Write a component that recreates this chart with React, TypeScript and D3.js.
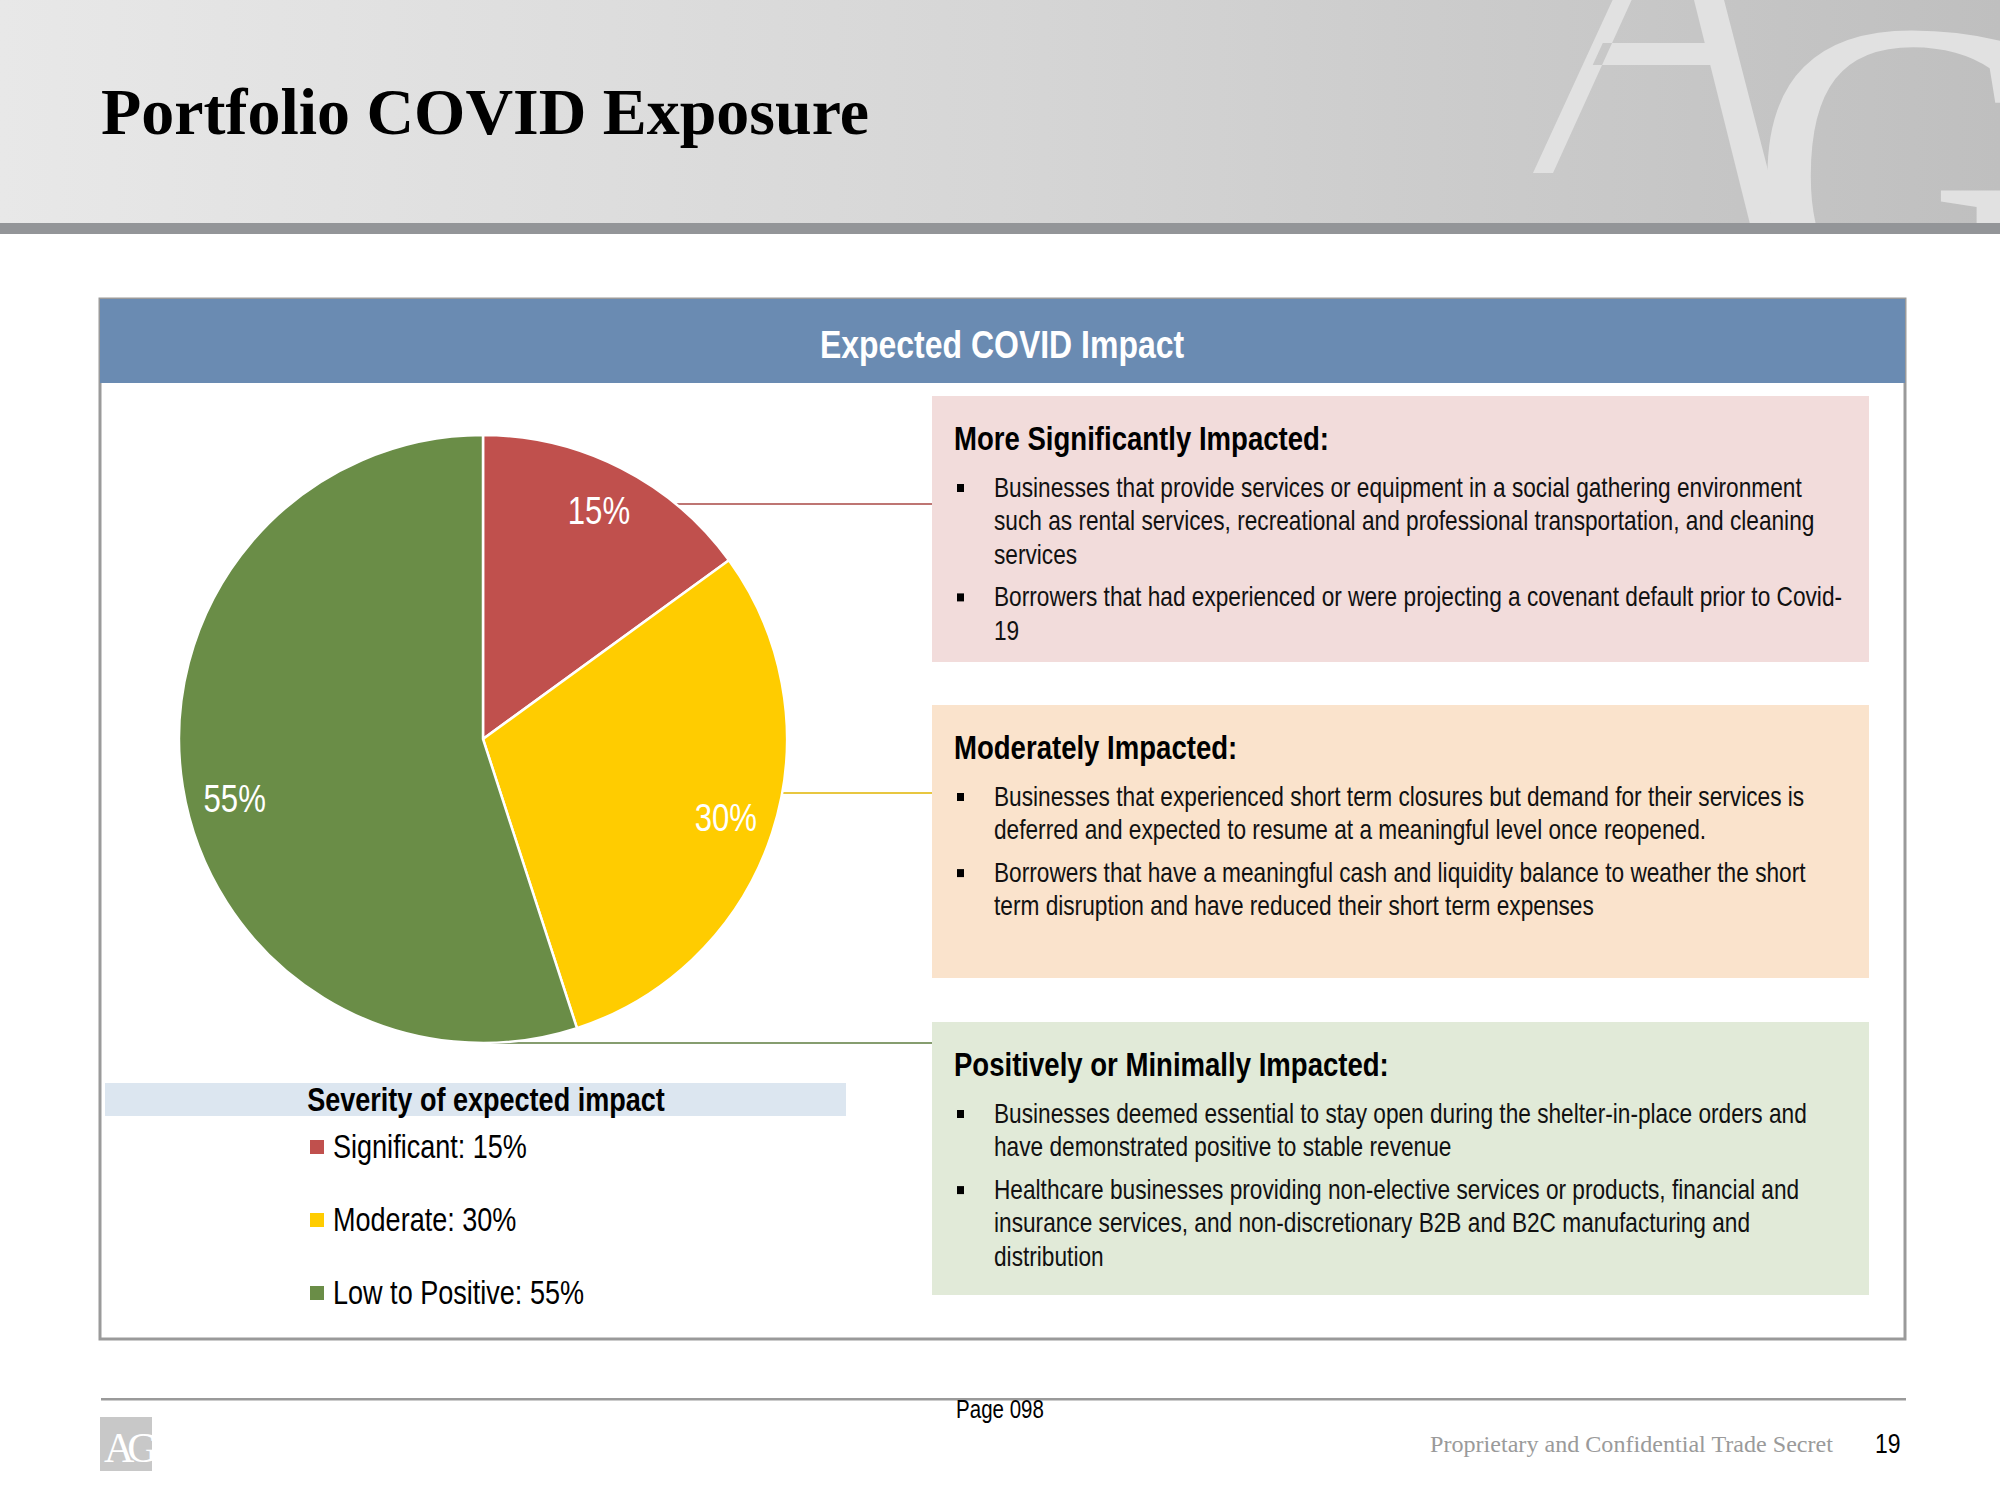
import React from "react";
import * as d3 from "d3";

// ---- data ----
const categories = ["Significant", "Moderate", "Low to Positive"];
const values = [15, 30, 55];
const sliceColors = ["#c0504d", "#ffcc00", "#6a8d47"];
const legendTitle = "Severity of expected impact";

const boxHeadings = [
  "More Significantly Impacted:",
  "Moderately Impacted:",
  "Positively or Minimally Impacted:",
];
const boxFills = ["#f2dcdb", "#fae3cc", "#e1ead8"];
const boxBullets: string[][][] = [
  [
    [
      "Businesses that provide services or equipment in a social gathering environment",
      "such as rental services, recreational and professional transportation, and cleaning",
      "services",
    ],
    ["Borrowers that had experienced or were projecting a covenant default prior to Covid-", "19"],
  ],
  [
    [
      "Businesses that experienced short term closures but demand for their services is",
      "deferred and expected to resume at a meaningful level once reopened.",
    ],
    [
      "Borrowers that have a meaningful cash and liquidity balance to weather the short",
      "term disruption and have reduced their short term expenses",
    ],
  ],
  [
    [
      "Businesses deemed essential to stay open during the shelter-in-place orders and",
      "have demonstrated positive to stable revenue",
    ],
    [
      "Healthcare businesses providing non-elective services or products, financial and",
      "insurance services, and non-discretionary B2B and B2C manufacturing and",
      "distribution",
    ],
  ],
];

// ---- layout ----
const W = 2000;
const H = 1500;
const SX = 0.82; // narrow sans
const SANS = "'Liberation Sans', Arial, sans-serif";
const SERIF = "'Liberation Serif', 'Times New Roman', serif";

const pieCx = 483;
const pieCy = 739;
const pieR = 304;
const labelAngleShiftDeg = [0, 0, -4.5];

const boxX = 932;
const boxW = 937;
const boxTops = [396, 705, 1022];
const boxHeights = [266, 273, 273];
const connectorYs = [504, 793, 1043];

function NText(props: {
  x: number;
  y: number;
  size: number;
  bold?: boolean;
  fill?: string;
  anchor?: string;
  sx?: number;
  children: React.ReactNode;
}) {
  const { x, y, size, bold, fill, anchor, children, sx } = props;
  return (
    <text
      transform={`translate(${x},${y}) scale(${sx ?? SX},1)`}
      fontFamily={SANS}
      fontSize={size}
      fontWeight={bold ? "bold" : "normal"}
      fill={fill || "#000"}
      textAnchor={anchor || "start"}
    >
      {children}
    </text>
  );
}

export default function App() {
  const pie = d3
    .pie<number>()
    .sort(null)
    .value((d) => d);
  const arcs = pie(values);
  const arc = d3.arc<d3.PieArcDatum<number>>().innerRadius(0).outerRadius(pieR);
  const labelArc = d3
    .arc<d3.PieArcDatum<number>>()
    .innerRadius(pieR * 0.84)
    .outerRadius(pieR * 0.84);

  const connStart = (y: number) => {
    const dy = y - pieCy;
    const dx = Math.sqrt(Math.max(0, pieR * pieR - dy * dy));
    return pieCx + dx;
  };

  const headingOffset = 54;
  const firstLineOffset = 47;
  const lineH = 33.3;
  const paraGap = 9.5;

  // watermark "A" geometry (decorative logo)
  const lOut = (y: number) => 1533 + (173 - y) * 0.46;
  const rIn = (y: number) => 1694 + y * 0.25;
  const wmA =
    `M${lOut(173)},173 L${lOut(173) + 20},173 L${lOut(-5) + 19},-5 L${lOut(-5)},-5 Z ` +
    `M${rIn(-5)},-5 L${rIn(-5) + 30},-5 L${rIn(240) + 32},240 L${rIn(240)},240 Z ` +
    `M${lOut(43) + 10},43 L${rIn(43) + 5},43 L${rIn(65) + 5},65 L${lOut(65) + 10},65 Z`;

  return (
    <svg
      width={W}
      height={H}
      viewBox={`0 0 ${W} ${H}`}
      style={{ position: "absolute", left: 0, top: 0, background: "#fff" }}
    >
      <defs>
        <linearGradient id="hdr" x1="0" y1="0" x2="1" y2="0">
          <stop offset="0" stopColor="#e8e8e8" />
          <stop offset="0.5" stopColor="#d6d6d6" />
          <stop offset="1" stopColor="#bfbfbf" />
        </linearGradient>
        <clipPath id="hdrClip">
          <rect x={0} y={0} width={W} height={223} />
        </clipPath>
      </defs>

      {/* header */}
      <rect x={0} y={0} width={W} height={223} fill="url(#hdr)" />
      <g clipPath="url(#hdrClip)" fill="#e1e1e1">
        <path d={wmA} />
        <text x={1750} y={312} fontFamily={SERIF} fontSize={425}>
          G
        </text>
      </g>
      <rect x={0} y={223} width={W} height={11} fill="#939598" />
      <text
        x={101}
        y={134}
        fontFamily={SERIF}
        fontWeight="bold"
        fontSize={66}
        textLength={768}
        lengthAdjust="spacingAndGlyphs"
        fill="#000"
      >
        Portfolio COVID Exposure
      </text>

      {/* panel */}
      <rect x={100} y={299} width={1805} height={1040} fill="#fff" stroke="#9a9a9a" strokeWidth={3} />
      <rect x={100} y={299} width={1805} height={84} fill="#6a8bb2" />
      <NText x={1002} y={358} size={39} bold fill="#fff" anchor="middle">
        Expected COVID Impact
      </NText>

      {/* boxes */}
      {boxHeadings.map((h, i) => {
        const top = boxTops[i];
        let y = top + headingOffset + firstLineOffset;
        const lines: React.ReactNode[] = [];
        boxBullets[i].forEach((para, pi) => {
          if (pi > 0) y += paraGap;
          para.forEach((ln, li) => {
            if (li === 0) {
              lines.push(
                <rect key={`b${pi}`} x={957} y={y - 13} width={7} height={8} fill="#000" />
              );
            }
            lines.push(
              <NText key={`l${pi}-${li}`} x={994} y={y} size={27} sx={0.84} fill="#111">
                {ln}
              </NText>
            );
            y += lineH;
          });
        });
        return (
          <g key={h}>
            <rect x={boxX} y={top} width={boxW} height={boxHeights[i]} fill={boxFills[i]} />
            <NText x={954} y={top + headingOffset} size={33.2} sx={0.83} bold>
              {h}
            </NText>
            {lines}
          </g>
        );
      })}

      {/* connectors */}
      {connectorYs.map((y, i) => (
        <line
          key={`c${i}`}
          x1={i === 2 ? pieCx : connStart(y)}
          x2={boxX}
          y1={y}
          y2={y}
          stroke={d3.color(sliceColors[i])!.darker(0.35).formatHex()}
          strokeWidth={1.6}
        />
      ))}

      {/* pie */}
      <g transform={`translate(${pieCx},${pieCy})`}>
        {arcs.map((a, i) => (
          <path key={categories[i]} d={arc(a) || ""} fill={sliceColors[i]} stroke="#fff" strokeWidth={2.5} />
        ))}
        {arcs.map((a, i) => {
          const s = (labelAngleShiftDeg[i] * Math.PI) / 180;
          const [lx, ly] = labelArc.centroid({ ...a, startAngle: a.startAngle + s, endAngle: a.endAngle + s });
          return (
            <NText key={`t${i}`} x={lx} y={ly + 13} size={38} fill="#fff" anchor="middle">
              {`${values[i]}%`}
            </NText>
          );
        })}
      </g>

      {/* legend */}
      <rect x={105} y={1083} width={741} height={33} fill="#dce6f0" />
      <NText x={486} y={1111} size={33} bold anchor="middle">
        {legendTitle}
      </NText>
      {categories.map((c, i) => {
        const y = 1158 + i * 73;
        return (
          <g key={`lg${i}`}>
            <rect x={310} y={y - 18} width={14} height={14} fill={sliceColors[i]} />
            <NText x={333} y={y} size={33}>
              {`${c}: ${values[i]}%`}
            </NText>
          </g>
        );
      })}

      {/* footer */}
      <rect x={101} y={1398} width={1805} height={2.5} fill="#9a9a9a" />
      <NText x={1000} y={1418} size={25} anchor="middle">
        Page 098
      </NText>
      <rect x={100} y={1417} width={52} height={54} fill="#c8c8c8" />
      <text x={104} y={1462} fontFamily={SERIF} fontSize={42} fill="#fff" letterSpacing={-7}>
        AG
      </text>
      <text
        x={1430}
        y={1452}
        fontFamily={SERIF}
        fontSize={23}
        fill="#9a9a9a"
        textLength={403}
        lengthAdjust="spacingAndGlyphs"
      >
        Proprietary and Confidential Trade Secret
      </text>
      <NText x={1875} y={1453} size={28}>
        19
      </NText>
    </svg>
  );
}
